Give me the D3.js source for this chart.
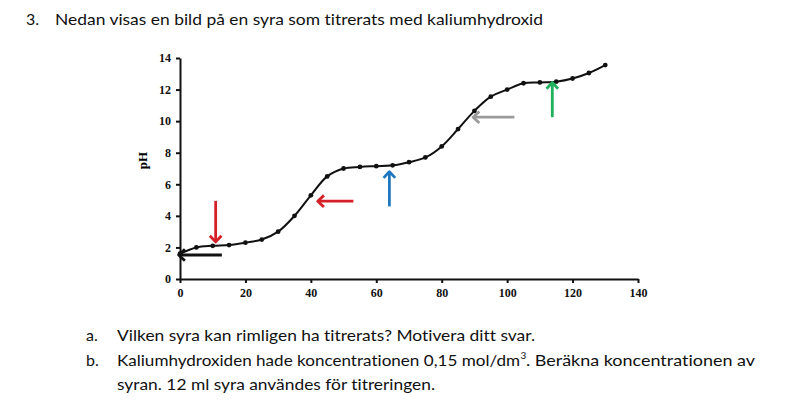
<!DOCTYPE html>
<html>
<head>
<meta charset="utf-8">
<script src="https://cdn.jsdelivr.net/npm/d3@7"></script>
<style>
  body { margin: 0; background: #fff; }
  .txt { font-family: Lato, "Open Sans", sans-serif; font-size: 16px; fill: #111; font-variant-ligatures: none; }
  .axis text { font-family: "Liberation Serif", "Times New Roman", serif; font-weight: bold; font-size: 12px; fill: #111; }
  .axis path, .axis line { stroke: #111; stroke-width: 2px; }
</style>
</head>
<body>
<svg id="chart"></svg>
<script>
// titration data
const volumes = [0, 5, 10, 15, 20, 25, 30, 35, 40, 45, 50, 55, 60, 65, 70, 75, 80, 85, 90, 95, 100, 105, 110, 115, 120, 125, 130];
const phValues = [1.6, 2.0, 2.1, 2.15, 2.3, 2.5, 3.0, 4.0, 5.3, 6.5, 7.0, 7.1, 7.15, 7.2, 7.4, 7.7, 8.4, 9.5, 10.65, 11.55, 12.0, 12.4, 12.45, 12.5, 12.7, 13.05, 13.55];
const xTicks = [0, 20, 40, 60, 80, 100, 120, 140];
const yTicks = [0, 2, 4, 6, 8, 10, 12, 14];

// arrows: [x, y] in data units, arrow head at arrowTo
const arrowColors = ['#111111', '#d42027', '#d42027', '#1f78bf', '#9a9a9a', '#1fb15c'];
const arrowFrom = [[12.8, 1.52], [10.9, 4.95], [53, 4.93], [64, 4.6], [102.2, 10.25], [113.8, 10.25]];
const arrowTo = [[-0.4, 1.52], [10.9, 2.35], [42.1, 4.93], [64, 6.8], [89.6, 10.25], [113.8, 12.45]];

const width = 800, height = 401;
const margin = {top: 58, right: 162, bottom: 122, left: 180};
const innerW = width - margin.left - margin.right;
const innerH = height - margin.top - margin.bottom;

const svg = d3.select('#chart').attr('width', width).attr('height', height);

// header and questions
function addText(x, y, str, endX) {
  const t = svg.append('text').attr('class', 'txt').attr('x', x).attr('y', y).text(str);
  if (endX) t.attr('textLength', endX - x).attr('lengthAdjust', 'spacingAndGlyphs');
  return t;
}
addText(26, 25, '3.');
addText(55, 25, 'Nedan visas en bild på en syra som titrerats med kaliumhydroxid', 543);
addText(86, 341, 'a.');
addText(117, 341, 'Vilken syra kan rimligen ha titrerats? Motivera ditt svar.', 535);
addText(86, 366, 'b.');
addText(117, 366, 'Kaliumhydroxiden hade koncentrationen 0,15 mol/dm', 520);
svg.append('text').attr('class', 'txt').attr('x', 520.5).attr('y', 359).style('font-size', '10px').text('3');
addText(526, 366, '. Beräkna koncentrationen av', 755);
addText(117, 390, 'syran. 12 ml syra användes för titreringen.', 435);

const chart = svg.append('g')
    .attr('transform', `translate(${margin.left},${margin.top})`);

const xScale = d3.scaleLinear().domain([0, 140]).range([0, innerW]);
const yScale = d3.scaleLinear().domain([0, 14]).range([innerH, 0]);

const xAxis = d3.axisBottom(xScale).tickValues(xTicks).tickSize(4).tickSizeOuter(0).tickPadding(5);
const yAxis = d3.axisLeft(yScale).tickValues(yTicks).tickSize(4).tickSizeOuter(0).tickPadding(5);

chart.append('g').attr('class', 'axis').attr('transform', `translate(0,${innerH})`).call(xAxis);
chart.append('g').attr('class', 'axis').call(yAxis);

// axis title
chart.append('text')
    .attr('transform', `translate(-33,${yScale(7.5)}) rotate(-90)`)
    .attr('text-anchor', 'middle')
    .style('font-family', '"Liberation Serif", serif')
    .style('font-weight', 'bold')
    .style('font-size', '13px')
    .text('pH');

const points = volumes.map((v, i) => ({x: v, y: phValues[i]}));

const line = d3.line()
    .x(d => xScale(d.x))
    .y(d => yScale(d.y))
    .curve(d3.curveCatmullRom);

chart.append('path')
    .datum(points)
    .attr('fill', 'none')
    .attr('stroke', '#111')
    .attr('stroke-width', 2)
    .attr('d', line);

chart.selectAll('.dot')
    .data(points)
  .join('circle')
    .attr('class', 'dot')
    .attr('cx', d => xScale(d.x))
    .attr('cy', d => yScale(d.y))
    .attr('r', 2.4)
    .attr('fill', '#111');

// arrows with open chevron heads
arrowFrom.forEach((from, i) => {
  const x1 = xScale(from[0]), y1 = yScale(from[1]);
  const x2 = xScale(arrowTo[i][0]), y2 = yScale(arrowTo[i][1]);
  const ang = Math.atan2(y2 - y1, x2 - x1);
  const hl = 8.5, hw = 0.75;
  const g = chart.append('g')
      .attr('stroke', arrowColors[i])
      .attr('stroke-width', 2.8)
      .attr('fill', 'none');
  g.append('line').attr('x1', x1).attr('y1', y1).attr('x2', x2 - 1.5 * Math.cos(ang)).attr('y2', y2 - 1.5 * Math.sin(ang));
  g.append('polyline')
      .attr('stroke-linejoin', 'round')
      .attr('points', [
        [x2 - hl * Math.cos(ang - hw), y2 - hl * Math.sin(ang - hw)],
        [x2, y2],
        [x2 - hl * Math.cos(ang + hw), y2 - hl * Math.sin(ang + hw)]
      ].map(p => p.join(',')).join(' '));
});
</script>
</body>
</html>
